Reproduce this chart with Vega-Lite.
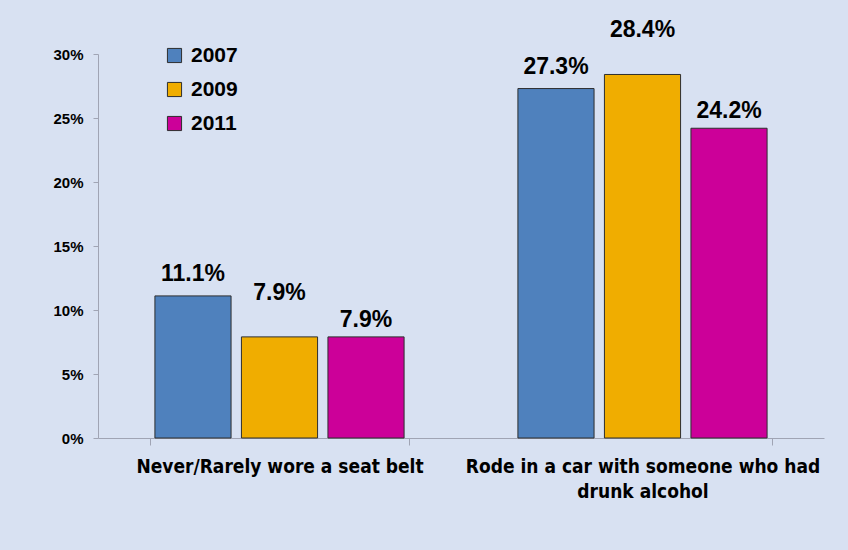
{
  "$schema": "https://vega.github.io/schema/vega-lite/v6.json",
  "width": 726,
  "height": 384,
  "autosize": {"type": "none"},
  "padding": {"left": 98, "top": 54, "right": 24, "bottom": 112},
  "background": "#d8e1f2",
  "config": {"view": {"stroke": null}, "font": "Liberation Sans"},
  "data": {
    "values": [
      {"behavior": "Never/Rarely wore a seat belt", "year": "2007", "pct": 0.111},
      {"behavior": "Never/Rarely wore a seat belt", "year": "2009", "pct": 0.079},
      {"behavior": "Never/Rarely wore a seat belt", "year": "2011", "pct": 0.079},
      {"behavior": "Rode in a car with someone who had drunk alcohol", "year": "2007", "pct": 0.273},
      {"behavior": "Rode in a car with someone who had drunk alcohol", "year": "2009", "pct": 0.284},
      {"behavior": "Rode in a car with someone who had drunk alcohol", "year": "2011", "pct": 0.242}
    ]
  },
  "encoding": {
    "x": {
      "field": "behavior",
      "type": "nominal",
      "sort": null,
      "title": null,
      "scale": {"paddingInner": 0.285, "paddingOuter": 0.1425},
      "axis": {
        "labelAngle": 0,
        "labelFont": "DejaVu Sans Condensed",
        "labelFontSize": 19,
        "labelFontWeight": "bold",
        "labelColor": "#000000",
        "labelPadding": 12,
        "labelLineHeight": 25,
        "labelLimit": 0,
        "tickBand": "extent",
        "tickSize": 7,
        "tickColor": "#a0a4b4",
        "domainColor": "#a0a4b4",
        "labelExpr": "datum.label == 'Rode in a car with someone who had drunk alcohol' ? ['Rode in a car with someone who had', 'drunk alcohol'] : datum.label"
      }
    },
    "xOffset": {
      "field": "year",
      "type": "nominal",
      "scale": {"paddingInner": 0.12, "paddingOuter": 0.06}
    },
    "y": {
      "field": "pct",
      "type": "quantitative",
      "title": null,
      "scale": {"domain": [0, 0.3], "nice": false},
      "axis": {
        "format": ".0%",
        "values": [0, 0.05, 0.1, 0.15, 0.2, 0.25, 0.3],
        "grid": false,
        "labelFontSize": 15,
        "labelFontWeight": "bold",
        "labelColor": "#000000",
        "labelPadding": 10,
        "tickSize": 5,
        "tickColor": "#a0a4b4",
        "domainColor": "#a0a4b4"
      }
    }
  },
  "layer": [
    {
      "mark": {"type": "bar", "stroke": "#2e2e2e", "strokeWidth": 1},
      "encoding": {
        "color": {
          "field": "year",
          "type": "nominal",
          "scale": {"domain": ["2007", "2009", "2011"], "range": ["#4f81bd", "#f0ad00", "#cc0099"]},
          "legend": {
            "title": null,
            "orient": "none",
            "legendX": 66,
            "legendY": -9,
            "symbolType": "square",
            "symbolSize": 200,
            "symbolStrokeColor": "#2e2e2e",
            "symbolStrokeWidth": 1,
            "symbolOpacity": 1,
            "labelFontSize": 21,
            "labelFontWeight": "bold",
            "labelColor": "#000000",
            "labelOffset": 6,
            "rowPadding": 12
          }
        }
      }
    },
    {
      "transform": [{"filter": "datum.year == '2007'"}],
      "mark": {"type": "text", "baseline": "alphabetic", "dy": -15, "fontSize": 23, "fontWeight": "bold", "color": "#000000"},
      "encoding": {"text": {"field": "pct", "format": ".1%"}}
    },
    {
      "transform": [{"filter": "datum.year == '2009'"}],
      "mark": {"type": "text", "baseline": "alphabetic", "dy": -37, "fontSize": 23, "fontWeight": "bold", "color": "#000000"},
      "encoding": {"text": {"field": "pct", "format": ".1%"}}
    },
    {
      "transform": [{"filter": "datum.year == '2011'"}],
      "mark": {"type": "text", "baseline": "alphabetic", "dy": -10, "fontSize": 23, "fontWeight": "bold", "color": "#000000"},
      "encoding": {"text": {"field": "pct", "format": ".1%"}}
    }
  ]
}
